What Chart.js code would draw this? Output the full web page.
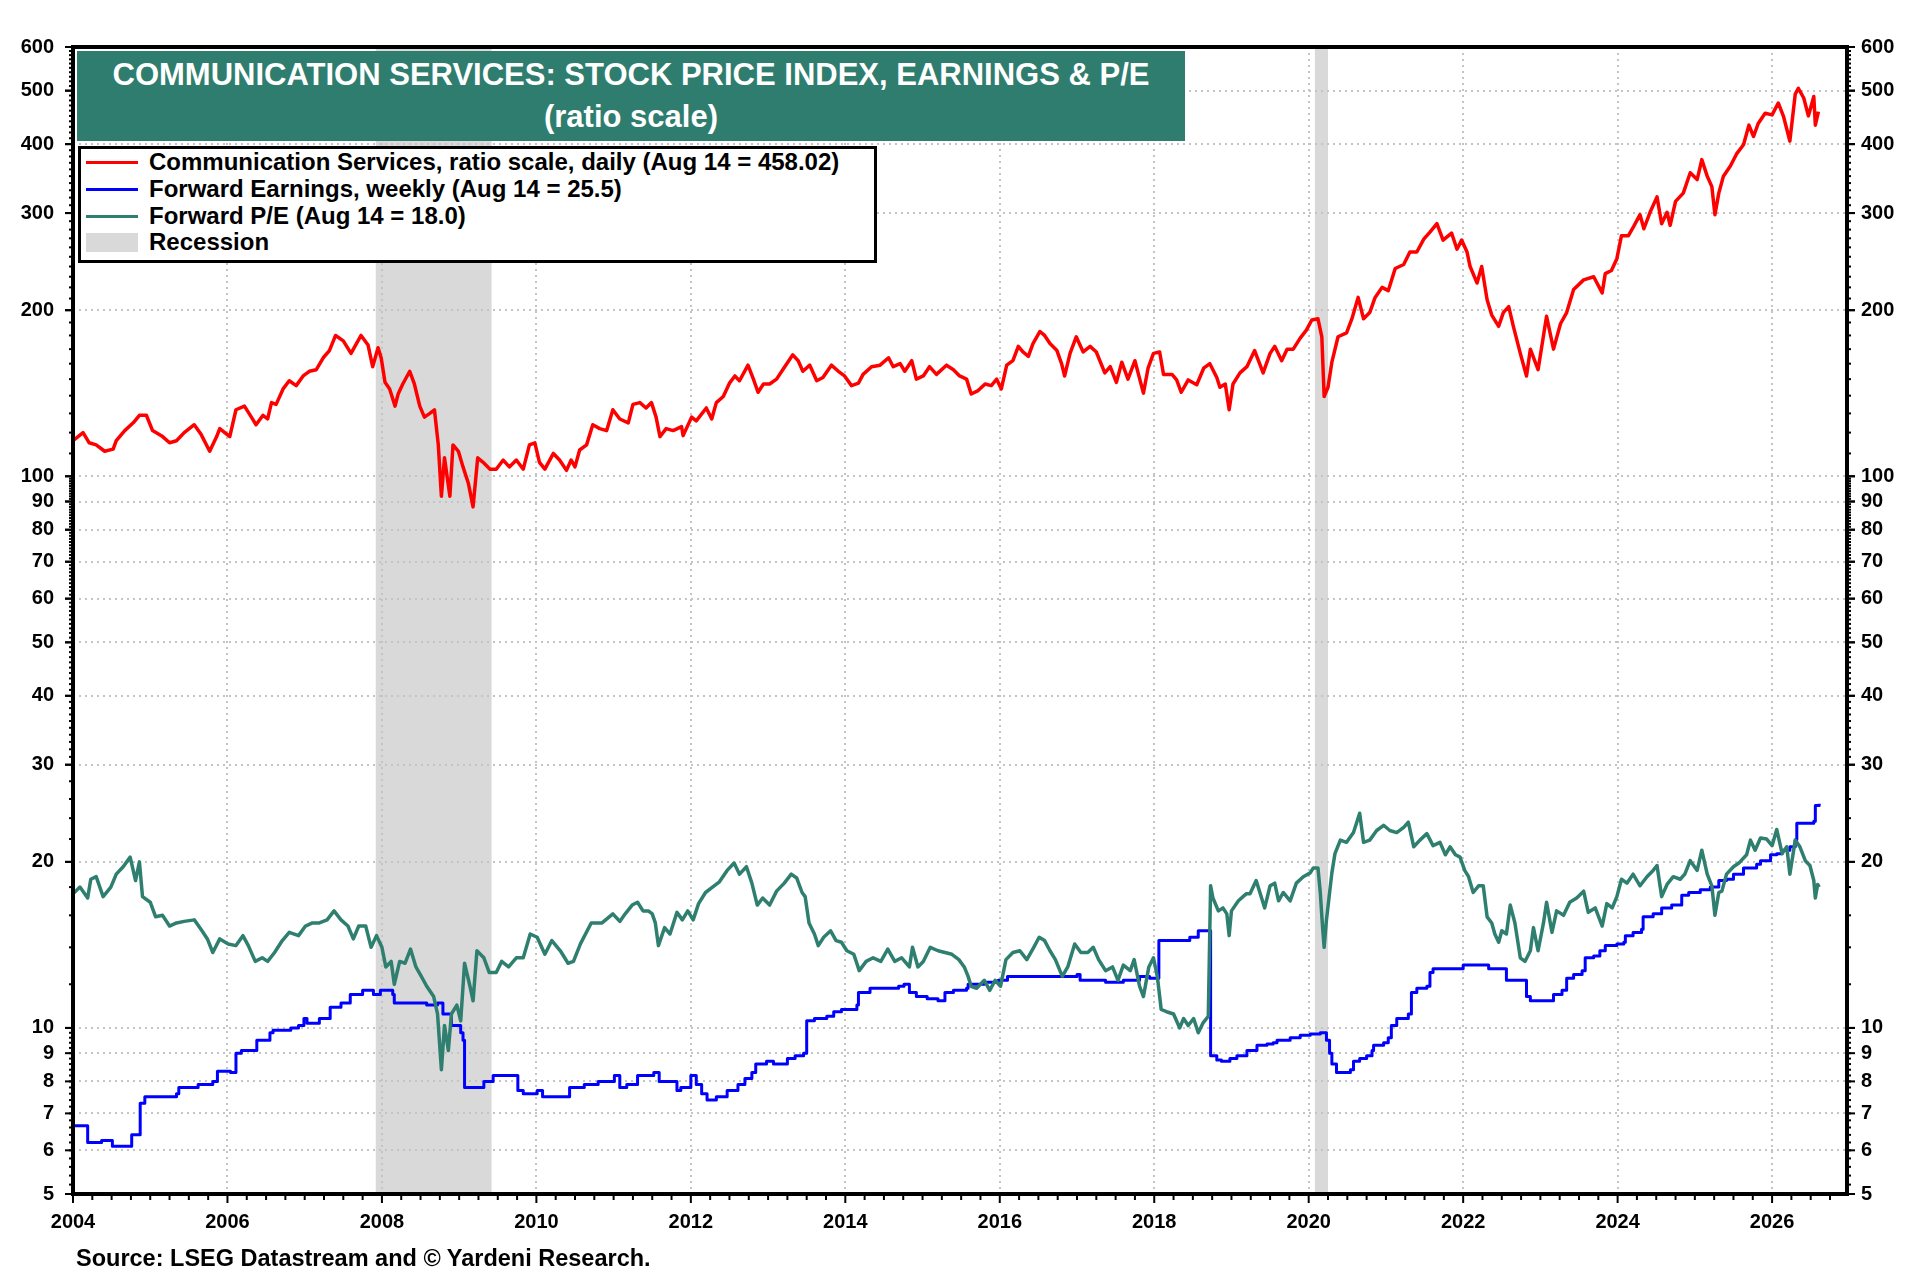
<!DOCTYPE html>
<html lang="en">
<head>
    <meta charset="UTF-8">
    <title>Communication Services: Stock Price Index, Earnings & P/E</title>
    <style>
        body { margin: 0; background: #fff; }
        #wrap { position: relative; width: 1920px; height: 1280px; font-family: "Liberation Sans", Arial, sans-serif; }
        canvas { position: absolute; left: 0; top: 0; }
        .title {
            position: absolute; left: 77px; top: 51px; width: 1108px; height: 90px;
            background: #2e7d6e; color: #fff; font-weight: bold; font-size: 31px;
            text-align: center; line-height: 42px; padding-top: 3px; box-sizing: border-box;
        }
        .legend {
            position: absolute; left: 78px; top: 146px; width: 799px; height: 117px;
            background: #fff; border: 3px solid #000; box-sizing: border-box;
            font-weight: bold; font-size: 24px; line-height: 26.8px;
        }
        .legend div { position: relative; padding-left: 68px; white-space: nowrap; }
        .legend .sw { position: absolute; left: 5px; top: 12px; width: 52px; height: 3px; }
        .legend .box { position: absolute; left: 5px; top: 4px; width: 52px; height: 19px; background: #d9d9d9; }
        .source { position: absolute; left: 76px; top: 1245px; font-weight: bold; font-size: 23.5px; }
    </style>
</head>
<body>

<div id="wrap">
    <canvas id="myChart" width="1920" height="1280"></canvas>

    <div class="title">COMMUNICATION SERVICES: STOCK PRICE INDEX, EARNINGS &amp; P/E<br>(ratio scale)</div>

    <div class="legend">
        <div><span class="sw" style="background:#ff0000"></span>Communication Services, ratio scale, daily (Aug 14 = 458.02)</div>
        <div><span class="sw" style="background:#0000ff"></span>Forward Earnings, weekly (Aug 14 = 25.5)</div>
        <div><span class="sw" style="background:#2e7f6f"></span>Forward P/E (Aug 14 = 18.0)</div>
        <div><span class="box"></span>Recession</div>
    </div>

    <div class="source">Source: LSEG Datastream and &copy; Yardeni Research.</div>
</div>

<script src="https://cdn.jsdelivr.net/npm/chart.js@4.4.1/dist/chart.umd.min.js"></script>

<script>
    // axis labels
    const yLabels = [5, 6, 7, 8, 9, 10, 20, 30, 40, 50, 60, 70, 80, 90, 100, 200, 300, 400, 500, 600];
    const xLabels = [2004, 2006, 2008, 2010, 2012, 2014, 2016, 2018, 2020, 2022, 2024, 2026];

    // recession periods (decimal years)
    const recessions = [[2007.92, 2009.42], [2020.08, 2020.25]];

    // Communication Services price index, [year, value]
    const priceIndex = [
        [2004.00,116],[2004.13,120],[2004.21,115],[2004.30,114],[2004.41,111],[2004.52,112],[2004.56,116],[2004.67,121],[2004.78,125],[2004.86,129],[2004.95,129],
        [2005.03,121],[2005.16,118],[2005.25,115],[2005.34,116],[2005.44,120],[2005.57,124],[2005.66,119],[2005.77,111],[2005.86,118],[2005.90,122],
        [2006.03,118],[2006.11,132],[2006.22,134],[2006.31,128],[2006.37,124],[2006.46,129],[2006.52,127],[2006.57,136],[2006.63,135],[2006.72,144],[2006.80,149],[2006.89,146],[2006.98,152],
        [2007.06,155],[2007.15,156],[2007.24,164],[2007.32,169],[2007.40,180],[2007.50,176],[2007.60,167],[2007.65,172],[2007.73,180],[2007.82,173],[2007.88,158],[2007.95,171],[2007.99,164],
        [2008.04,148],[2008.10,144],[2008.17,134],[2008.21,141],[2008.27,147],[2008.36,155],[2008.42,147],[2008.49,134],[2008.55,128],[2008.62,130],[2008.68,132],[2008.73,114],[2008.77,92],[2008.81,108],[2008.88,92],[2008.92,114],[2008.99,111],
        [2009.05,104],[2009.12,97],[2009.18,88],[2009.24,108],[2009.31,106],[2009.40,103],[2009.48,103],[2009.57,107],[2009.65,104],[2009.74,107],[2009.83,103],[2009.91,114],[2009.98,115],
        [2010.04,106],[2010.11,103],[2010.22,110],[2010.30,107],[2010.39,102.5],[2010.45,107],[2010.50,104],[2010.56,111.6],[2010.65,114],[2010.73,124],[2010.82,122],[2010.91,121],[2010.99,132],
        [2011.08,127],[2011.19,125],[2011.25,135],[2011.34,136],[2011.42,133],[2011.49,136],[2011.55,128],[2011.60,118],[2011.68,122],[2011.77,121],[2011.88,123],[2011.90,118.5],
        [2012.01,128],[2012.07,126],[2012.20,133],[2012.27,127],[2012.33,136],[2012.42,139.5],[2012.50,147.5],[2012.57,152],[2012.63,149],[2012.74,159],[2012.81,150],[2012.87,142],[2012.94,147],
        [2013.02,147],[2013.11,150],[2013.19,156],[2013.32,166],[2013.39,162],[2013.45,155],[2013.54,159],[2013.63,149],[2013.71,151],[2013.82,159],[2013.91,155],[2013.99,152],
        [2014.08,146],[2014.17,147.5],[2014.23,153],[2014.34,158],[2014.45,159],[2014.56,164],[2014.62,158],[2014.71,160],[2014.77,155],[2014.86,162],[2014.92,150],
        [2015.01,152],[2015.09,158],[2015.18,153],[2015.31,159],[2015.40,156],[2015.48,152],[2015.57,150],[2015.63,141],[2015.72,143],[2015.81,147],[2015.89,146],[2015.96,150],
        [2016.02,144],[2016.09,159],[2016.17,162],[2016.24,172],[2016.30,168],[2016.37,165],[2016.43,174],[2016.52,183],[2016.58,180],[2016.65,174],[2016.74,169],[2016.80,160],[2016.84,152],[2016.91,167],[2016.99,179],
        [2017.08,168],[2017.17,172],[2017.25,168],[2017.36,154],[2017.43,158],[2017.51,148],[2017.58,161],[2017.66,150],[2017.75,162],[2017.86,141.5],[2017.92,157],[2017.99,167],
        [2018.07,168],[2018.12,153],[2018.23,153],[2018.29,149.5],[2018.35,142],[2018.44,149.5],[2018.55,146.5],[2018.64,157],[2018.72,160],[2018.81,151],[2018.85,145],[2018.92,147],[2018.97,132],
        [2019.02,147],[2019.11,154],[2019.20,158],[2019.30,169],[2019.41,154],[2019.50,167],[2019.56,172],[2019.65,162],[2019.72,170],[2019.80,170],[2019.89,178],[2019.97,184],
        [2020.04,192],[2020.12,193],[2020.17,179],[2020.20,139.5],[2020.25,145],[2020.30,161],[2020.38,179],[2020.49,182],[2020.56,193],[2020.64,211],[2020.71,193],[2020.79,198],[2020.86,211],[2020.95,220],
        [2021.03,217],[2021.12,238],[2021.23,242],[2021.31,255],[2021.40,255],[2021.49,269],[2021.57,277],[2021.66,287],[2021.74,268],[2021.85,276],[2021.92,258],[2021.98,268],
        [2022.05,255],[2022.09,240],[2022.18,224],[2022.24,240],[2022.31,209],[2022.37,196],[2022.46,187],[2022.52,198],[2022.59,203],[2022.65,187],[2022.74,167],[2022.82,152],[2022.87,170],[2022.97,156],
        [2023.08,195],[2023.17,170],[2023.26,189],[2023.34,198],[2023.43,218],[2023.56,227],[2023.69,230],[2023.80,215],[2023.84,233],[2023.92,236],[2023.99,248],
        [2024.05,273],[2024.14,273],[2024.21,284],[2024.29,298],[2024.34,281],[2024.42,301],[2024.51,321],[2024.57,287],[2024.64,301],[2024.68,285],[2024.75,315],[2024.85,326],[2024.94,355],
        [2025.03,345],[2025.09,375],[2025.16,350],[2025.22,335],[2025.26,298],[2025.31,326],[2025.37,350],[2025.46,365],[2025.54,384],[2025.63,399],[2025.70,433],[2025.76,413],[2025.82,436],[2025.91,455],
        [2026.00,452],[2026.08,475],[2026.15,448],[2026.23,405],[2026.30,493],[2026.34,505],[2026.41,485],[2026.47,450],[2026.54,488],[2026.56,433],[2026.60,458]
    ];

    // Forward earnings, weekly, [year, value] held until next step
    const forwardEarnings = [
        [2004.00,6.65],[2004.19,6.2],[2004.37,6.25],[2004.51,6.1],[2004.76,6.4],[2004.87,7.3],[2004.93,7.5],
        [2005.34,7.6],[2005.37,7.8],[2005.62,7.9],[2005.81,8.0],[2005.87,8.35],
        [2006.04,8.3],[2006.11,9.0],[2006.18,9.1],[2006.38,9.5],[2006.55,9.8],[2006.59,9.9],[2006.82,10.0],[2006.92,10.1],[2006.99,10.4],
        [2007.03,10.2],[2007.19,10.4],[2007.33,10.9],[2007.47,11.1],[2007.59,11.5],[2007.75,11.7],[2007.89,11.5],[2007.98,11.7],
        [2008.14,11.5],[2008.16,11.1],[2008.58,11.0],[2008.72,11.1],[2008.79,10.6],[2008.90,10.1],
        [2009.02,9.8],[2009.05,9.5],[2009.07,7.8],[2009.32,8.0],[2009.44,8.2],[2009.76,7.7],[2009.83,7.6],
        [2010.01,7.7],[2010.08,7.5],[2010.43,7.8],[2010.62,7.9],[2010.80,8.0],
        [2011.01,8.2],[2011.08,7.8],[2011.17,7.9],[2011.31,8.2],[2011.52,8.3],[2011.59,8.0],[2011.82,7.7],[2011.87,7.8],
        [2012.00,8.2],[2012.07,7.9],[2012.14,7.6],[2012.21,7.4],[2012.33,7.5],[2012.47,7.7],[2012.61,7.9],[2012.70,8.1],[2012.79,8.3],[2012.84,8.6],[2012.98,8.7],
        [2013.07,8.6],[2013.25,8.8],[2013.35,8.9],[2013.46,9.0],[2013.50,10.3],[2013.60,10.4],[2013.76,10.5],[2013.85,10.7],[2013.95,10.8],
        [2014.15,11.0],[2014.17,11.6],[2014.32,11.8],[2014.69,11.9],[2014.76,12.0],[2014.83,11.6],[2014.92,11.4],
        [2015.06,11.3],[2015.20,11.2],[2015.29,11.6],[2015.40,11.7],[2015.57,11.8],[2015.59,12.0],[2015.80,12.1],[2015.98,12.2],
        [2016.10,12.4],[2017.00,12.5],[2017.04,12.2],[2017.37,12.1],[2017.60,12.2],[2017.81,12.4],[2017.94,12.3],
        [2018.06,14.4],[2018.46,14.6],[2018.57,15.0],[2018.73,8.9],[2018.81,8.75],[2018.87,8.7],[2018.98,8.8],
        [2019.07,8.9],[2019.20,9.1],[2019.33,9.3],[2019.46,9.35],[2019.54,9.4],[2019.59,9.5],[2019.76,9.6],[2019.89,9.7],
        [2020.02,9.75],[2020.15,9.8],[2020.23,9.5],[2020.27,9.0],[2020.30,8.6],[2020.36,8.3],[2020.54,8.4],[2020.58,8.7],[2020.66,8.8],[2020.75,8.9],[2020.82,9.1],[2020.84,9.3],[2020.97,9.4],
        [2021.03,9.6],[2021.07,10.1],[2021.14,10.4],[2021.29,10.6],[2021.33,11.6],[2021.40,11.8],[2021.53,11.9],[2021.57,12.6],[2021.61,12.8],
        [2022.00,13.0],[2022.33,12.8],[2022.56,12.2],[2022.82,11.4],[2022.87,11.2],
        [2023.17,11.5],[2023.28,11.7],[2023.34,12.3],[2023.43,12.5],[2023.54,12.7],[2023.58,13.4],[2023.69,13.5],[2023.77,13.8],[2023.84,14.1],[2023.99,14.2],
        [2024.08,14.3],[2024.10,14.7],[2024.20,14.9],[2024.31,15.1],[2024.33,15.9],[2024.46,16.1],[2024.57,16.5],[2024.70,16.7],[2024.83,17.4],[2024.92,17.6],
        [2025.07,17.8],[2025.20,18.0],[2025.31,18.5],[2025.41,18.6],[2025.50,19.0],[2025.63,19.5],[2025.80,19.8],[2025.85,20.1],[2025.98,20.6],
        [2026.06,20.7],[2026.13,21.0],[2026.23,21.3],[2026.30,21.9],[2026.32,23.5],[2026.54,23.7],[2026.56,25.3],[2026.61,25.5]
    ];

    // Forward P/E, [year, value]
    const forwardPE = [
        [2004.00,17.5],[2004.09,18.0],[2004.19,17.2],[2004.23,18.6],[2004.30,18.8],[2004.39,17.3],[2004.49,18.0],[2004.56,19.0],[2004.65,19.6],[2004.74,20.4],[2004.81,18.5],[2004.86,20.0],[2004.90,17.3],
        [2005.00,16.9],[2005.07,15.9],[2005.16,16.0],[2005.25,15.3],[2005.34,15.5],[2005.44,15.6],[2005.57,15.7],[2005.67,15.0],[2005.74,14.5],[2005.81,13.7],[2005.90,14.5],
        [2006.01,14.2],[2006.11,14.1],[2006.20,14.7],[2006.27,14.1],[2006.36,13.2],[2006.45,13.4],[2006.52,13.2],[2006.61,13.7],[2006.71,14.4],[2006.80,14.9],[2006.92,14.7],
        [2007.01,15.3],[2007.10,15.5],[2007.19,15.5],[2007.29,15.7],[2007.38,16.3],[2007.47,15.7],[2007.56,15.3],[2007.63,14.5],[2007.70,15.3],[2007.79,15.3],[2007.86,14.0],[2007.93,14.7],
        [2008.00,14.0],[2008.05,12.9],[2008.12,13.2],[2008.16,12.0],[2008.23,13.2],[2008.30,13.1],[2008.37,13.9],[2008.44,12.9],[2008.51,12.4],[2008.58,11.9],[2008.67,11.4],[2008.72,10.6],[2008.77,8.4],[2008.81,10.1],[2008.86,9.1],[2008.90,10.6],[2008.97,11.0],
        [2009.02,10.3],[2009.07,13.1],[2009.14,11.9],[2009.18,11.2],[2009.23,13.8],[2009.32,13.4],[2009.39,12.6],[2009.48,12.6],[2009.55,13.2],[2009.64,12.9],[2009.74,13.4],[2009.83,13.4],[2009.92,14.8],
        [2010.01,14.6],[2010.11,13.6],[2010.20,14.4],[2010.31,13.8],[2010.41,13.1],[2010.48,13.2],[2010.57,14.2],[2010.71,15.5],[2010.85,15.5],[2010.99,16.1],
        [2011.08,15.6],[2011.15,16.1],[2011.24,16.7],[2011.31,16.9],[2011.38,16.3],[2011.45,16.3],[2011.50,16.1],[2011.54,15.5],[2011.58,14.1],[2011.66,15.2],[2011.73,14.8],[2011.82,16.2],[2011.89,15.7],[2011.96,16.3],
        [2012.03,15.7],[2012.10,16.8],[2012.19,17.6],[2012.28,18.0],[2012.37,18.4],[2012.47,19.3],[2012.56,19.9],[2012.63,19.0],[2012.72,19.6],[2012.79,18.3],[2012.86,16.7],[2012.93,17.2],
        [2013.02,16.7],[2013.11,17.7],[2013.21,18.3],[2013.30,19.0],[2013.37,18.7],[2013.44,17.6],[2013.48,17.3],[2013.53,15.5],[2013.60,14.8],[2013.65,14.1],[2013.72,14.6],[2013.81,15.0],[2013.88,14.4],[2013.95,14.3],
        [2014.02,13.8],[2014.11,13.6],[2014.18,12.7],[2014.27,13.2],[2014.36,13.4],[2014.46,13.2],[2014.55,13.9],[2014.64,13.2],[2014.73,13.4],[2014.83,12.9],[2014.87,14.0],[2014.94,12.9],
        [2015.01,13.2],[2015.10,14.0],[2015.20,13.8],[2015.29,13.7],[2015.38,13.6],[2015.47,13.3],[2015.54,12.9],[2015.59,12.4],[2015.63,11.9],[2015.70,11.8],[2015.80,12.2],[2015.87,11.7],[2015.94,12.2],
        [2016.01,11.9],[2016.08,13.3],[2016.17,13.7],[2016.26,13.8],[2016.35,13.3],[2016.44,14.0],[2016.51,14.6],[2016.58,14.4],[2016.65,13.8],[2016.72,13.3],[2016.81,12.4],[2016.88,12.9],[2016.97,14.2],
        [2017.05,13.7],[2017.14,13.7],[2017.21,14.0],[2017.28,13.3],[2017.37,12.7],[2017.46,12.9],[2017.53,12.2],[2017.60,13.0],[2017.69,12.7],[2017.74,13.3],[2017.81,11.9],[2017.86,11.4],[2017.93,12.9],[2017.99,13.4],
        [2018.04,12.4],[2018.09,10.8],[2018.16,10.7],[2018.25,10.6],[2018.33,10.0],[2018.38,10.4],[2018.44,10.1],[2018.51,10.4],[2018.57,9.8],[2018.63,10.2],[2018.70,10.5],[2018.73,18.1],[2018.76,17.2],[2018.83,16.3],[2018.89,16.5],[2018.94,16.1],[2018.97,14.7],
        [2019.00,16.3],[2019.09,17.0],[2019.19,17.5],[2019.24,17.5],[2019.32,18.5],[2019.39,17.2],[2019.43,16.5],[2019.50,18.1],[2019.56,18.3],[2019.61,17.0],[2019.67,17.6],[2019.76,17.0],[2019.84,18.3],[2019.93,18.8],
        [2020.02,19.1],[2020.06,19.5],[2020.12,19.5],[2020.15,17.6],[2020.18,15.2],[2020.20,14.0],[2020.23,15.7],[2020.30,19.1],[2020.34,20.7],[2020.41,21.9],[2020.49,21.7],[2020.58,22.6],[2020.66,24.5],[2020.71,21.7],[2020.79,21.9],[2020.88,22.8],[2020.97,23.3],
        [2021.05,22.8],[2021.14,22.6],[2021.23,23.1],[2021.29,23.6],[2021.36,21.3],[2021.44,21.9],[2021.53,22.5],[2021.61,21.4],[2021.70,21.7],[2021.77,20.6],[2021.83,21.3],[2021.90,20.6],[2021.96,20.4],
        [2022.02,19.3],[2022.07,18.8],[2022.13,17.6],[2022.20,18.1],[2022.26,18.1],[2022.31,15.9],[2022.37,15.5],[2022.41,14.8],[2022.46,14.3],[2022.50,15.0],[2022.56,14.8],[2022.61,16.7],[2022.67,15.5],[2022.74,13.4],[2022.80,13.2],[2022.87,13.8],[2022.91,15.2],[2022.97,13.8],
        [2023.04,15.5],[2023.08,16.9],[2023.15,14.9],[2023.21,16.3],[2023.30,16.0],[2023.38,16.9],[2023.47,17.2],[2023.56,17.7],[2023.62,16.2],[2023.71,16.5],[2023.80,15.3],[2023.86,16.8],[2023.93,16.5],[2023.99,17.3],
        [2024.05,18.6],[2024.12,18.3],[2024.20,19.0],[2024.29,18.1],[2024.38,18.8],[2024.46,19.3],[2024.51,19.7],[2024.57,17.3],[2024.64,18.2],[2024.72,18.8],[2024.81,18.6],[2024.87,19.0],[2024.94,20.1],
        [2025.03,19.3],[2025.09,21.0],[2025.16,19.0],[2025.22,18.1],[2025.26,16.0],[2025.31,17.6],[2025.35,17.7],[2025.41,19.0],[2025.50,19.6],[2025.57,19.9],[2025.67,20.6],[2025.72,21.9],[2025.78,21.0],[2025.85,22.1],[2025.93,22.0],
        [2026.00,21.4],[2026.06,22.9],[2026.13,20.7],[2026.19,21.3],[2026.23,19.0],[2026.30,21.9],[2026.36,21.3],[2026.43,20.1],[2026.49,19.7],[2026.54,18.5],[2026.56,17.2],[2026.59,18.2],[2026.61,18.0]
    ];

    const toXY = arr => arr.map(([x, y]) => ({ x, y }));
    const tickFont = { family: '"Liberation Sans", Arial, sans-serif', size: 20, weight: 'bold' };

    // minor tick marks on the ratio scale
    const minorY = [];
    [[5, 10, 0.2], [10, 30, 2], [30, 100, 1], [100, 600, 10]].forEach(([from, to, step]) => {
        for (let v = from; v < to - 1e-9; v += step) minorY.push(v);
    });

    // recession shading, dotted grid, frame and tick marks
    const framePlugin = {
        id: 'frame',
        beforeDatasetsDraw(chart) {
            const { ctx, chartArea: a, scales: { x, y } } = chart;
            ctx.save();
            ctx.beginPath();
            ctx.rect(a.left, a.top, a.right - a.left, a.bottom - a.top);
            ctx.clip();

            ctx.fillStyle = '#d9d9d9';
            recessions.forEach(([s, e]) => {
                const x0 = x.getPixelForValue(s), x1 = x.getPixelForValue(e);
                ctx.fillRect(x0, a.top, x1 - x0, a.bottom - a.top);
            });

            ctx.strokeStyle = '#c4c4c4';
            ctx.lineWidth = 2;
            ctx.setLineDash([2, 4]);
            yLabels.forEach(v => {
                const py = Math.round(y.getPixelForValue(v));
                ctx.beginPath(); ctx.moveTo(a.left, py); ctx.lineTo(a.right, py); ctx.stroke();
            });
            xLabels.forEach(v => {
                const px = Math.round(x.getPixelForValue(v));
                ctx.beginPath(); ctx.moveTo(px, a.top); ctx.lineTo(px, a.bottom); ctx.stroke();
            });
            ctx.restore();
        },
        afterDatasetsDraw(chart) {
            const { ctx, chartArea: a, scales: { x, y } } = chart;
            ctx.save();
            ctx.strokeStyle = '#000';
            ctx.lineWidth = 2;
            const tick = (x1, y1, x2, y2) => { ctx.beginPath(); ctx.moveTo(x1, y1); ctx.lineTo(x2, y2); ctx.stroke(); };

            minorY.concat(yLabels).forEach(v => {
                const py = y.getPixelForValue(v);
                const len = yLabels.includes(v) ? 8 : 4;
                tick(a.left, py, a.left - len, py);
                tick(a.right, py, a.right + len, py);
            });
            for (let q = 2004; q <= 2026.76; q += 0.25) {
                const px = x.getPixelForValue(q);
                const len = xLabels.includes(q) ? 9 : 6;
                tick(px, a.bottom, px, a.bottom + len);
            }

            ctx.lineWidth = 4;
            ctx.strokeRect(a.left, a.top, a.right - a.left, a.bottom - a.top);
            ctx.restore();
        }
    };

    const logAxis = (position, padding) => ({
        type: 'logarithmic',
        position,
        min: 5,
        max: 600,
        grid: { display: false, drawTicks: false },
        border: { display: false },
        afterBuildTicks: s => { s.ticks = yLabels.map(v => ({ value: v })); },
        afterFit: s => { s.width = 73; },
        ticks: { font: tickFont, color: '#000', padding, callback: v => String(v) }
    });

    new Chart(document.getElementById('myChart'), {
        type: 'line',
        data: {
            datasets: [
                { label: 'Communication Services', data: toXY(priceIndex), borderColor: '#ff0000', borderWidth: 3.5, order: 0 },
                { label: 'Forward P/E', data: toXY(forwardPE), borderColor: '#2e7f6f', borderWidth: 3.5, order: 1 },
                { label: 'Forward Earnings', data: toXY(forwardEarnings), borderColor: '#0000ff', borderWidth: 3, stepped: 'before', order: 2 }
            ]
        },
        options: {
            responsive: false,
            animation: false,
            devicePixelRatio: 1,
            layout: { padding: { top: 47, left: 0, right: 0, bottom: 0 } },
            elements: { point: { radius: 0 }, line: { tension: 0, borderJoinStyle: 'round' } },
            plugins: { legend: { display: false }, tooltip: { enabled: false } },
            scales: {
                x: {
                    type: 'linear',
                    min: 2004,
                    max: 2026.97,
                    grid: { display: false, drawTicks: false },
                    border: { display: false },
                    afterBuildTicks: s => { s.ticks = xLabels.map(v => ({ value: v })); },
                    afterFit: s => { s.height = 86; },
                    ticks: { font: tickFont, color: '#000', padding: 16, maxRotation: 0, autoSkip: false, callback: v => String(v) }
                },
                y: logAxis('left', 19),
                y2: logAxis('right', 14)
            }
        },
        plugins: [framePlugin]
    });
</script>

</body>
</html>
